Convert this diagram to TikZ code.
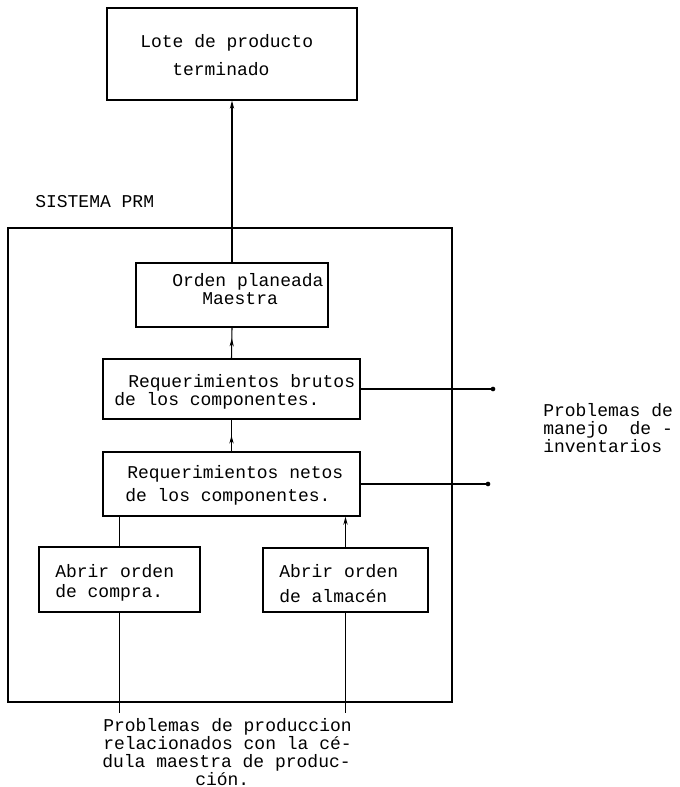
\documentclass[tikz,border=0pt]{standalone}
\usepackage{fontspec}
\setmonofont{Liberation Mono}
\usetikzlibrary{fit,arrows.meta,decorations.markings}

\begin{document}
\begin{tikzpicture}[x=0.75pt,y=-0.75pt,
  box/.style={draw, line width=1pt, inner sep=0pt},
  sysbox/.style={draw, line width=1.8pt, inner sep=0pt},
  conn/.style={line width=0.8pt},
  txt/.style={anchor=base west, inner sep=0pt, font=\ttfamily\fontsize{13.5}{16}\selectfont},
  tipup/.style={-{Stealth[length=6pt,width=3.2pt]}},
  midtip/.style={postaction={decorate}, decoration={markings,
      mark=at position #1 with {\arrow{Stealth[length=6pt,width=3.2pt]}}}},
  enddot/.style={circle, fill, inner sep=0pt, minimum size=3.5pt}
]
\fill[white] (0,0) rectangle (679,787);
\useasboundingbox (0,0) rectangle (679,787);

% frame of the MRP system
\node[sysbox, fit={(8,228)(452,702)}] (sys) {};
\node[txt] (systitle) at (35,208) {SISTEMA PRM};

% boxes
\node[box, fit={(107,8)(357,100)}] (lote) {};
\node[box, fit={(136,263)(328,327)}] (orden) {};
\node[box, fit={(103,359)(360,419)}] (brutos) {};
\node[box, fit={(103,452)(360,516)}] (netos) {};
\node[box, fit={(39,547)(200,612)}] (compra) {};
\node[box, fit={(263,548)(428,612)}] (almacen) {};

% box texts
\node[txt] (lote1) at (140,48) {Lote de producto};
\node[txt] (lote2) at (172,76) {terminado};
\node[txt] (orden1) at (172,287) {Orden planeada};
\node[txt] (orden2) at (202,305) {Maestra};
\node[txt] (brutos1) at (128,387) {Requerimientos brutos};
\node[txt] (brutos2) at (114,405) {de los componentes.};
\node[txt] (netos1) at (127,478) {Requerimientos netos};
\node[txt] (netos2) at (125,501) {de los componentes.};
\node[txt] (compra1) at (55,577) {Abrir orden};
\node[txt] (compra2) at (55,597) {de compra.};
\node[txt] (almacen1) at (279,577) {Abrir orden};
\node[txt] (almacen2) at (279,602) {de almacén};

% side labels
\node[txt] (inv1) at (543,416) {Problemas de};
\node[txt] (inv2) at (543,434) {manejo~~de~-};
\node[txt] (inv3) at (543,452) {inventarios};
\node[txt] (prod1) at (103,731) {Problemas de produccion};
\node[txt] (prod2) at (103,749) {relacionados con la cé-};
\node[txt] (prod3) at (102,767) {dula maestra de produc-};
\node[txt] (prod4) at (195,785) {ción.};

% line ends
\node[enddot] (d1) at (493,389) {};
\node[enddot] (d2) at (488,484) {};
\coordinate (c1) at (119.5,713);
\coordinate (c2) at (345.5,713);

% connectors
\draw[conn, tipup] (orden.north) -- (lote.south);
\draw[conn, midtip=0.65] (brutos.north) -- (orden.south);
\draw[conn, midtip=0.5] (netos.north) -- (brutos.south);
\draw[conn] (compra.north) -- (compra.north |- netos.south);
\draw[conn, tipup] (almacen.north) -- (almacen.north |- netos.south);
\draw[conn] (compra.south) -- (c1);
\draw[conn] (almacen.south) -- (c2);
\draw[conn] (brutos.east) -- (d1.center);
\draw[conn] (netos.east) -- (d2.center);
\end{tikzpicture}
\end{document}
